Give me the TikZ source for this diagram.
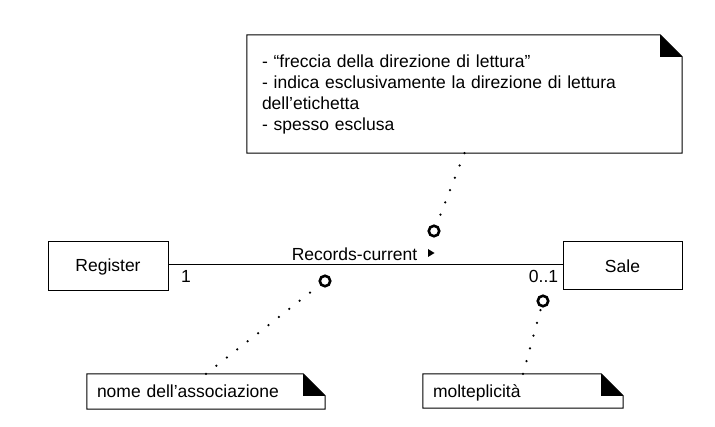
\documentclass[tikz,border=0pt]{standalone}
\usepackage{fontspec}
\setmainfont{Liberation Sans}
\begin{document}
\begin{tikzpicture}[x=1pt,y=-1pt,
  every node/.style={font=\fontsize{17.5}{21}\selectfont},
  classbox/.style={draw,line width=1pt,inner sep=0pt},
  notebox/.style={inner ysep=0pt,align=left},
  ring/.style={circle,draw,line width=2.6pt,minimum size=10.5pt,inner sep=0pt},
  dotline/.style={line width=2.5pt,line cap=round,dash pattern=on 0pt off 13.2pt},
  assoc/.style={line width=1.1pt}]
\useasboundingbox (0,0) rectangle (715,427);
% classes
\node[classbox,minimum width=120pt,minimum height=49pt] (register) at (108,266.5) {Register};
\node[classbox,minimum width=119pt,minimum height=48pt] (sale) at (622.5,266) {Sale};
\draw[assoc] ([yshift=1.8pt]register.east) -- ([yshift=1.8pt]register.east -| sale.west);
% labels
\node[anchor=base,inner sep=0pt] (lname) at (354.5,261) {Records-current};
\node[anchor=base,inner sep=0pt] (lone) at (186,283) {1};
\node[anchor=base,inner sep=0pt] (lmult) at (543.5,283) {0..1};
\fill (428,249) -- (428,257) -- (434.5,253) -- cycle;
% notes
\node[notebox,inner xsep=15pt,text width=405pt,minimum height=118pt] (bignote) at (464.5,94)
  {- “freccia della direzione di lettura”\\- indica esclusivamente la direzione di lettura\\dell’etichetta\\- spesso esclusa};
\node[notebox,inner xsep=10pt,text width=218pt,minimum height=35pt,text depth=0pt] (namenote) at (206,391.5) {nome dell’associazione};
\node[notebox,inner xsep=10pt,text width=180pt,minimum height=34pt,text depth=0pt] (multnote) at (523,391) {molteplicità};
\foreach \n in {bignote,namenote,multnote}{
  \draw[line width=1pt] (\n.north west) -- ([xshift=-22pt]\n.north east) -- ([yshift=-22pt]\n.north east) -- (\n.south east) -- (\n.south west) -- cycle;
  \fill ([xshift=-22pt]\n.north east) -- ([xshift=-22pt,yshift=-22pt]\n.north east) -- ([yshift=-22pt]\n.north east) -- cycle;
}
% rings
\node[ring] (c1) at (434,231) {};
\node[ring] (c2) at (325,281) {};
\node[ring] (c3) at (543,301) {};
% dotted connectors
\draw[dotline] (bignote.south) -- (c1);
\draw[dotline] (namenote.north) -- (c2);
\draw[dotline] (multnote.north) -- (c3);
\end{tikzpicture}
\end{document}
